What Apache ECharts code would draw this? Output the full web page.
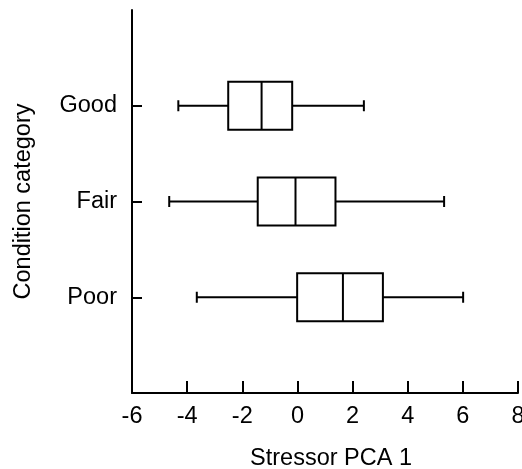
<!DOCTYPE html>
<html>
<head>
<meta charset="utf-8">
<script src="https://cdn.jsdelivr.net/npm/echarts@6/dist/echarts.min.js"></script>
<style>html,body{margin:0;padding:0;background:#fff;}#c{width:522px;height:469px;}</style>
</head>
<body>
<div id="c"></div>
<script>
const categories = ['Poor', 'Fair', 'Good'];
const whiskerLow = [-3.65, -4.65, -4.32];
const q1 = [-0.01, -1.44, -2.51];
const median = [1.65, -0.07, -1.30];
const q3 = [3.10, 1.38, -0.19];
const whiskerHigh = [6.01, 5.32, 2.41];
const xTicks = [-6, -4, -2, 0, 2, 4, 6, 8];

const FONT = '"Liberation Sans", Arial, sans-serif';
const FS = 23.5;
const data = categories.map((c, i) => [whiskerLow[i], q1[i], median[i], q3[i], whiskerHigh[i], i + 1]);

const chart = echarts.init(document.getElementById('c'), null, {renderer: 'canvas'});
chart.setOption({
  animation: false,
  backgroundColor: '#fff',
  grid: {left: 132, right: 4, top: 10, bottom: 76, containLabel: false, outerBoundsMode: 'none'},
  xAxis: {
    type: 'value', min: xTicks[0], max: xTicks[xTicks.length - 1], interval: 2,
    name: 'Stressor PCA 1', nameLocation: 'middle', nameGap: 54,
    nameTextStyle: {fontFamily: FONT, fontSize: FS, color: '#000', padding: [0, 0, 0, 12]},
    axisLine: {show: true, onZero: false, lineStyle: {color: '#000', width: 2}},
    axisTick: {show: true, inside: true, length: 12, lineStyle: {color: '#000', width: 2}},
    axisLabel: {fontFamily: FONT, fontSize: FS, color: '#000', margin: 12},
    splitLine: {show: false}
  },
  yAxis: {
    type: 'value', min: 0, max: 4, interval: 1,
    name: 'Condition category', nameLocation: 'middle', nameGap: 96,
    nameTextStyle: {fontFamily: FONT, fontSize: FS, color: '#000'},
    axisLine: {show: true, onZero: false, lineStyle: {color: '#000', width: 2}},
    axisTick: {show: true, inside: true, length: 10, customValues: [1, 2, 3], lineStyle: {color: '#000', width: 2}},
    axisLabel: {fontFamily: FONT, fontSize: FS, color: '#000', margin: 15, customValues: [1, 2, 3],
      formatter: v => categories[v - 1] || ''},
    splitLine: {show: false}
  },
  series: [{
    type: 'custom',
    data: data,
    encode: {x: [0, 1, 2, 3, 4], y: 5},
    renderItem: function (params, api) {
      const y = api.value(5);
      const pLow = api.coord([api.value(0), y]);
      const pQ1 = api.coord([api.value(1), y]);
      const pMed = api.coord([api.value(2), y]);
      const pQ3 = api.coord([api.value(3), y]);
      const pHigh = api.coord([api.value(4), y]);
      const band = api.size([0, 1])[1];
      const h = band * 0.25;
      const cap = 5.5;
      const cy = pMed[1];
      const st = {stroke: '#000', lineWidth: 2, fill: null};
      return {
        type: 'group',
        children: [
          {type: 'line', shape: {x1: pLow[0], y1: cy, x2: pQ1[0], y2: cy}, style: st},
          {type: 'line', shape: {x1: pQ3[0], y1: cy, x2: pHigh[0], y2: cy}, style: st},
          {type: 'line', shape: {x1: pLow[0], y1: cy - cap, x2: pLow[0], y2: cy + cap}, style: st},
          {type: 'line', shape: {x1: pHigh[0], y1: cy - cap, x2: pHigh[0], y2: cy + cap}, style: st},
          {type: 'rect', shape: {x: pQ1[0], y: cy - h, width: pQ3[0] - pQ1[0], height: 2 * h}, style: {stroke: '#000', lineWidth: 2, fill: '#fff'}},
          {type: 'line', shape: {x1: pMed[0], y1: cy - h, x2: pMed[0], y2: cy + h}, style: st}
        ]
      };
    }
  }]
});
</script>
</body>
</html>
